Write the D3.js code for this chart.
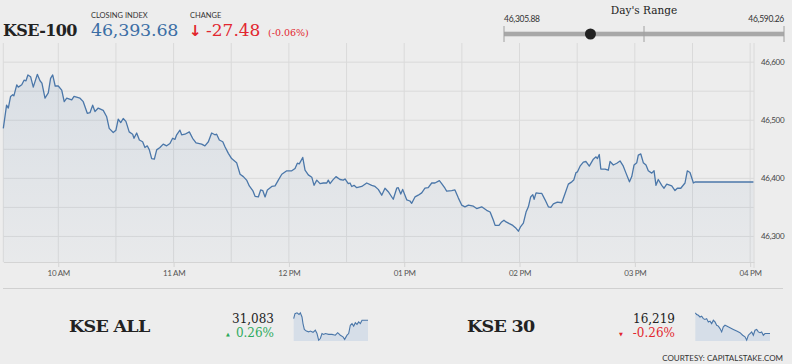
<!DOCTYPE html>
<html>
<head>
<meta charset="utf-8">
<script src="https://cdn.jsdelivr.net/npm/d3@7"></script>
<style>
    body { margin: 0; background: #ededed; }
    .serif { font-family: "DejaVu Serif", serif; }
    .sans { font-family: Lato, "Open Sans", sans-serif; }
</style>
</head>
<body>
<div id="chart"></div>
<script>
//KSE-100 intraday: minutes after 09:30 and index level
var kseTimes = [1.4, 3.1, 4.0, 5.2, 6.3, 6.9, 8.4, 9.2, 11.0, 12.2, 13.2, 14.2, 15.6, 17.0, 19.1, 20.5, 21.5, 23.1, 24.8, 26.0,
    27.1, 28.4, 30.0, 31.8, 33.1, 34.4, 37.0, 38.2, 41.3, 43.0, 45.1, 46.5, 47.9, 49.1, 50.8, 53.4, 55.2, 56.5, 58.6, 60.0,
    61.2, 62.5, 63.8, 65.2, 66.9, 68.7, 69.4, 70.8, 72.2, 73.9, 75.1, 76.3, 77.4, 78.6, 80.0, 81.2, 82.9, 84.6, 86.4, 88.1,
    89.5, 90.7, 91.6, 93.3, 94.2, 95.9, 98.2, 99.9, 101.7, 104.6, 106.3, 108.1, 109.8, 111.5, 112.4, 113.8, 115.6, 116.8, 118.5, 120.2,
    122.8, 124.6, 126.3, 128.0, 129.4, 131.2, 132.4, 134.1, 135.3, 136.4, 137.6, 138.8, 141.1, 142.8, 144.5, 146.3, 148.9, 151.5, 153.2, 154.4,
    155.4, 157.2, 158.4, 160.1, 161.9, 163.1, 164.5, 166.2, 167.9, 169.7, 170.5, 171.4, 172.8, 174.5, 176.6, 178.3, 179.2, 180.9, 181.8, 182.7,
    183.9, 185.3, 187.9, 190.5, 193.1, 194.8, 196.5, 198.3, 200.0, 201.7, 204.3, 206.1, 206.9, 208.2, 209.2, 211.3, 213.0, 213.9, 215.6, 217.3,
    219.1, 220.8, 222.5, 224.3, 226.0, 228.3, 229.5, 231.2, 232.1, 234.7, 236.4, 238.2, 239.9, 241.6, 243.4, 246.0, 247.7, 250.3, 252.9, 254.7,
    256.4, 257.3, 259.3, 260.7, 261.9, 263.0, 264.7, 266.5, 268.2, 269.4, 270.6, 272.0, 273.4, 274.6, 275.8, 276.9, 277.6, 278.6, 280.3, 281.6,
    283.3, 285.0, 286.3, 287.6, 289.7, 292.0, 293.7, 295.4, 297.2, 298.2, 299.4, 300.1, 301.5, 303.2, 304.6, 306.3, 308.4, 309.8, 310.5, 311.5,
    312.3, 314.5, 316.2, 317.1, 318.8, 320.6, 322.3, 324.0, 325.4, 327.2, 328.4, 329.6, 331.0, 331.8, 333.1, 334.4, 335.8, 337.0, 338.8, 340.0,
    341.0, 342.2, 344.0, 345.2, 346.6, 349.2, 350.9, 352.1, 353.9, 356.1, 357.3, 358.7, 360.5, 361.3, 391.7];

var kseValues = [46486, 46526, 46521, 46541, 46544, 46542, 46561, 46557, 46561, 46569, 46568, 46578, 46575, 46557, 46579, 46568, 46564, 46538, 46547, 46572,
    46578, 46559, 46559, 46552, 46532, 46538, 46535, 46541, 46538, 46532, 46512, 46513, 46526, 46515, 46521, 46517, 46506, 46486, 46479, 46483,
    46502, 46496, 46503, 46498, 46480, 46476, 46469, 46478, 46466, 46463, 46453, 46456, 46449, 46434, 46433, 46449, 46453, 46459, 46456, 46460,
    46469, 46467, 46475, 46483, 46475, 46476, 46480, 46469, 46461, 46459, 46456, 46463, 46478, 46475, 46476, 46466, 46463, 46454, 46443, 46434,
    46427, 46407, 46403, 46397, 46387, 46379, 46369, 46368, 46380, 46379, 46368, 46380, 46386, 46387, 46397, 46407, 46413, 46413, 46417, 46426,
    46425, 46436, 46414, 46406, 46402, 46388, 46397, 46391, 46392, 46392, 46397, 46391, 46397, 46403, 46398, 46397, 46399, 46391, 46392, 46386,
    46388, 46384, 46386, 46392, 46388, 46386, 46381, 46371, 46383, 46377, 46364, 46383, 46384, 46373, 46381, 46363, 46361, 46357, 46368, 46371,
    46375, 46383, 46384, 46392, 46392, 46396, 46391, 46383, 46378, 46379, 46380, 46366, 46354, 46351, 46354, 46352, 46348, 46351, 46345, 46342,
    46328, 46319, 46319, 46325, 46328, 46325, 46322, 46319, 46314, 46309, 46317, 46323, 46342, 46351, 46368, 46372, 46364, 46375, 46374, 46374,
    46363, 46351, 46350, 46356, 46359, 46358, 46374, 46390, 46394, 46397, 46410, 46411, 46421, 46428, 46429, 46421, 46433, 46437, 46434, 46441,
    46416, 46416, 46414, 46429, 46423, 46426, 46430, 46421, 46409, 46394, 46403, 46423, 46427, 46440, 46442, 46427, 46423, 46413, 46409, 46413,
    46388, 46398, 46388, 46383, 46390, 46387, 46379, 46383, 46383, 46392, 46413, 46410, 46392, 46393.68, 46393.68];

//y-axis ticks (labels) and gridlines
var yTickValues = [46300, 46400, 46500, 46600];
var yGridValues = [46300, 46350, 46400, 46450, 46500, 46550, 46600];

//day's range
var dayLow = 46305.88;
var dayHigh = 46590.26;
var closingIndex = 46393.68;
var change = -27.48;
var changePct = -0.06;

//KSE ALL sparkline
var allTimes = [4.9, 11.8, 22.3, 32.7, 39.6, 48.3, 53.5, 60.5, 71.0, 83.1, 91.8, 105.7, 117.8, 126.5, 135.2, 143.9, 152.6, 161.3, 170.0, 187.4,
    204.7, 222.1, 234.3, 248.2, 262.1, 270.8, 283.0, 291.6, 300.3, 309.0, 317.7, 326.4, 335.1, 343.8, 352.5, 361.2, 392.4];
var allValues = [31087, 31099, 31101, 31097, 31101, 31091, 31075, 31061, 31057, 31055, 31057, 31054, 31059, 31051, 31035, 31039, 31051, 31049, 31051, 31049,
    31049, 31047, 31053, 31047, 31043, 31037, 31047, 31051, 31071, 31075, 31069, 31077, 31073, 31079, 31075, 31083, 31083];

//KSE 30 sparkline
var k30Times = [3.1, 10.1, 18.8, 27.5, 36.2, 44.9, 53.5, 62.2, 70.9, 79.6, 88.3, 97.0, 105.7, 114.4, 123.1, 131.8, 140.4, 149.1, 157.8, 166.5,
    183.9, 201.3, 218.7, 236.0, 249.9, 262.1, 270.8, 279.5, 288.2, 296.9, 305.6, 314.2, 322.9, 331.6, 340.3, 349.0, 357.7, 366.4, 392.4];
var k30Values = [16244, 16242, 16241, 16239, 16240, 16237, 16236, 16237, 16233, 16234, 16231, 16235, 16233, 16229, 16228, 16225, 16221, 16227, 16229, 16228,
    16226, 16224, 16222, 16220, 16217, 16215, 16211, 16217, 16219, 16221, 16217, 16223, 16224, 16221, 16220, 16221, 16217, 16219, 16219];

//convert minutes after open into a date
var open = new Date(2019, 0, 1, 9, 30, 0);
function toDate(m) {
    return new Date(open.getTime() + m * 60000);
}

var kseData = kseTimes.map((t, i) => ({date: toDate(t), value: kseValues[i]}));
var allData = allTimes.map((t, i) => ({date: toDate(t), value: allValues[i]}));
var k30Data = k30Times.map((t, i) => ({date: toDate(t), value: k30Values[i]}));

var svgWidth = 792;
var svgHeight = 364;

var svg = d3.select("#chart").append("svg")
    .attr("width", svgWidth)
    .attr("height", svgHeight)
    .style("display", "block");

svg.append("rect")
    .attr("width", svgWidth)
    .attr("height", svgHeight)
    .attr("fill", "#ededed");

//plot box
var plot = {left: 3.3, right: 754, top: 43, bottom: 262};

var xScale = d3.scaleTime()
    .domain([toDate(1.4), toDate(392)])
    .range([plot.left, plot.right]);

var yScale = d3.scaleLinear()
    .domain([46256, 46633])
    .range([plot.bottom, plot.top]);

//gradient for area
var defs = svg.append("defs");
var grad = defs.append("linearGradient")
    .attr("id", "areaFill")
    .attr("x1", 0).attr("y1", 0)
    .attr("x2", 0).attr("y2", 1);
grad.append("stop").attr("offset", "0%").attr("stop-color", "#4b77a9").attr("stop-opacity", 0.12);
grad.append("stop").attr("offset", "100%").attr("stop-color", "#4b77a9").attr("stop-opacity", 0.03);

//horizontal gridlines
svg.append("g")
    .selectAll("line")
    .data(yGridValues)
    .enter()
    .append("line")
    .attr("x1", plot.left)
    .attr("x2", plot.right)
    .attr("y1", d => yScale(d))
    .attr("y2", d => yScale(d))
    .attr("stroke", "#dadada")
    .attr("stroke-width", 1);

//vertical gridlines every 30 minutes
var halfHours = d3.timeMinute.every(30).range(toDate(30), toDate(392));
svg.append("g")
    .selectAll("line")
    .data(halfHours)
    .enter()
    .append("line")
    .attr("x1", d => xScale(d))
    .attr("x2", d => xScale(d))
    .attr("y1", plot.top)
    .attr("y2", plot.bottom)
    .attr("stroke", "#dadada")
    .attr("stroke-width", 1);

//left and right borders
svg.append("line")
    .attr("x1", plot.left).attr("x2", plot.left)
    .attr("y1", plot.top).attr("y2", plot.bottom)
    .attr("stroke", "#dadada");
svg.append("line")
    .attr("x1", plot.right).attr("x2", plot.right)
    .attr("y1", plot.top).attr("y2", plot.bottom + 6)
    .attr("stroke", "#dadada");

//area and line
var area = d3.area()
    .x(d => xScale(d.date))
    .y0(plot.bottom)
    .y1(d => yScale(d.value));

var line = d3.line()
    .x(d => xScale(d.date))
    .y(d => yScale(d.value));

svg.append("path")
    .datum(kseData)
    .attr("d", area)
    .attr("fill", "url(#areaFill)");

svg.append("path")
    .datum(kseData)
    .attr("d", line)
    .attr("fill", "none")
    .attr("stroke", "#4b77a9")
    .attr("stroke-width", 1.3)
    .attr("stroke-linejoin", "round");

//x-axis
var bottomAxis = d3.axisBottom(xScale)
    .ticks(d3.timeHour.every(1))
    .tickFormat(d3.timeFormat("%I %p"))
    .tickSize(5)
    .tickSizeOuter(0);

var xAxis = svg.append("g")
    .attr("transform", `translate(0, ${plot.bottom})`)
    .call(bottomAxis);

xAxis.select(".domain").attr("stroke", "#d4d4d4");
xAxis.selectAll(".tick line").attr("stroke", "#d4d4d4");
xAxis.selectAll(".tick text")
    .attr("y", 8)
    .attr("fill", "#555")
    .attr("font-family", "Lato, sans-serif")
    .attr("font-size", "8px")
    .attr("letter-spacing", "-0.3px");

//y-axis labels on right
svg.append("g")
    .selectAll("text")
    .data(yTickValues)
    .enter()
    .append("text")
    .attr("x", 761)
    .attr("y", d => yScale(d))
    .attr("dy", "0.32em")
    .attr("fill", "#444")
    .attr("font-family", "Lato, sans-serif")
    .attr("font-size", "8px")
    .attr("letter-spacing", "-0.3px")
    .text(d => d3.format(",")(d));

//separator line
svg.append("line")
    .attr("x1", 3).attr("x2", 783)
    .attr("y1", 288.5).attr("y2", 288.5)
    .attr("stroke", "#d0d0d0");

//header
var header = svg.append("g");

header.append("text")
    .attr("class", "serif")
    .attr("x", 3)
    .attr("y", 36)
    .attr("font-size", "16px")
    .attr("font-weight", "bold")
    .attr("letter-spacing", "-0.6px")
    .attr("fill", "#222")
    .text("KSE-100");

header.append("text")
    .attr("class", "sans")
    .attr("x", 91)
    .attr("y", 17.5)
    .attr("font-size", "7.5px")
    .attr("fill", "#333")
    .text("CLOSING INDEX");

header.append("text")
    .attr("class", "serif")
    .attr("x", 91)
    .attr("y", 36)
    .attr("font-size", "17.5px")
    .attr("letter-spacing", "-0.2px")
    .attr("fill", "#3b6ea5")
    .text(d3.format(",.2f")(closingIndex));

header.append("text")
    .attr("class", "sans")
    .attr("x", 190)
    .attr("y", 17.5)
    .attr("font-size", "7.5px")
    .attr("fill", "#333")
    .text("CHANGE");

header.append("text")
    .attr("x", 189)
    .attr("y", 36)
    .attr("font-family", "DejaVu Sans, sans-serif")
    .attr("font-size", "15px")
    .attr("font-weight", "bold")
    .attr("fill", "#e2262f")
    .text("\u2193");

header.append("text")
    .attr("class", "serif")
    .attr("x", 206)
    .attr("y", 36)
    .attr("font-size", "17px")
    .attr("fill", "#e2262f")
    .text(change.toFixed(2));

header.append("text")
    .attr("class", "serif")
    .attr("x", 268)
    .attr("y", 35.5)
    .attr("font-size", "9.5px")
    .attr("fill", "#e2262f")
    .text(`(${changePct.toFixed(2)}%)`);

//day's range
var rangeScale = d3.scaleLinear()
    .domain([dayLow, dayHigh])
    .range([504, 784]);

var range = svg.append("g");

range.append("text")
    .attr("class", "serif")
    .attr("x", 644)
    .attr("y", 13.5)
    .attr("text-anchor", "middle")
    .attr("font-size", "10.5px")
    .attr("fill", "#222")
    .text("Day's Range");

range.append("text")
    .attr("class", "sans")
    .attr("x", rangeScale(dayLow))
    .attr("y", 22)
    .attr("font-size", "8.5px")
    .attr("letter-spacing", "-0.3px")
    .attr("fill", "#333")
    .text(d3.format(",.2f")(dayLow));

range.append("text")
    .attr("class", "sans")
    .attr("x", rangeScale(dayHigh))
    .attr("y", 22)
    .attr("text-anchor", "end")
    .attr("font-size", "8.5px")
    .attr("letter-spacing", "-0.3px")
    .attr("fill", "#333")
    .text(d3.format(",.2f")(dayHigh));

range.append("rect")
    .attr("x", rangeScale(dayLow))
    .attr("y", 31.7)
    .attr("width", rangeScale(dayHigh) - rangeScale(dayLow))
    .attr("height", 4.6)
    .attr("fill", "#a8a8a8");

range.selectAll("line")
    .data([dayLow, (dayLow + dayHigh) / 2, dayHigh])
    .enter()
    .append("line")
    .attr("x1", d => rangeScale(d))
    .attr("x2", d => rangeScale(d))
    .attr("y1", 26)
    .attr("y2", 42)
    .attr("stroke", "#a0a0a0")
    .attr("stroke-width", 1);

range.append("circle")
    .attr("cx", rangeScale(closingIndex))
    .attr("cy", 34)
    .attr("r", 5.5)
    .attr("fill", "#222");

//bottom summary blocks
function drawSummary(opts) {
    var g = svg.append("g");

    g.append("text")
        .attr("class", "serif")
        .attr("x", opts.nameX)
        .attr("y", 332)
        .attr("font-size", "17.5px")
        .attr("font-weight", "bold")
        .attr("letter-spacing", "-0.7px")
        .attr("fill", "#222")
        .text(opts.name);

    g.append("text")
        .attr("class", "serif")
        .attr("x", opts.valueX)
        .attr("y", 322.5)
        .attr("text-anchor", "end")
        .attr("font-size", "12px")
        .attr("fill", "#222")
        .text(opts.value);

    g.append("text")
        .attr("class", "serif")
        .attr("x", opts.valueX)
        .attr("y", 337)
        .attr("text-anchor", "end")
        .attr("font-size", "12px")
        .attr("fill", opts.color)
        .text(opts.pct);

    g.append("text")
        .attr("x", opts.triX)
        .attr("y", 336)
        .attr("text-anchor", "middle")
        .attr("font-family", "DejaVu Sans, sans-serif")
        .attr("font-size", "5px")
        .attr("fill", opts.color)
        .text(opts.up ? "\u25B2" : "\u25BC");

    //sparkline
    var sx = d3.scaleTime()
        .domain([toDate(1.4), toDate(392.4)])
        .range([opts.sparkX, opts.sparkX + 75]);
    var ext = d3.extent(opts.data, d => d.value);
    var pad = (ext[1] - ext[0]) * 0.03;
    var sy = d3.scaleLinear()
        .domain([ext[0] - pad, ext[1] + pad])
        .range([341, 312]);

    g.append("path")
        .datum(opts.data)
        .attr("d", d3.area().x(d => sx(d.date)).y0(341).y1(d => sy(d.value)))
        .attr("fill", "#d6dee8");

    g.append("path")
        .datum(opts.data)
        .attr("d", d3.line().x(d => sx(d.date)).y(d => sy(d.value)))
        .attr("fill", "none")
        .attr("stroke", "#4b77a9")
        .attr("stroke-width", 1.1);
}

drawSummary({name: "KSE ALL", nameX: 69, value: "31,083", pct: "0.26%", valueX: 274, triX: 228,
    up: true, color: "#2eaa5c", sparkX: 293, data: allData});

drawSummary({name: "KSE 30", nameX: 467, value: "16,219", pct: "-0.26%", valueX: 675, triX: 621,
    up: false, color: "#e2262f", sparkX: 695, data: k30Data});

//courtesy
svg.append("text")
    .attr("class", "sans")
    .attr("x", 783)
    .attr("y", 360.5)
    .attr("text-anchor", "end")
    .attr("font-size", "8px")
    .attr("fill", "#333")
    .text("COURTESY: CAPITALSTAKE.COM");
</script>
</body>
</html>
